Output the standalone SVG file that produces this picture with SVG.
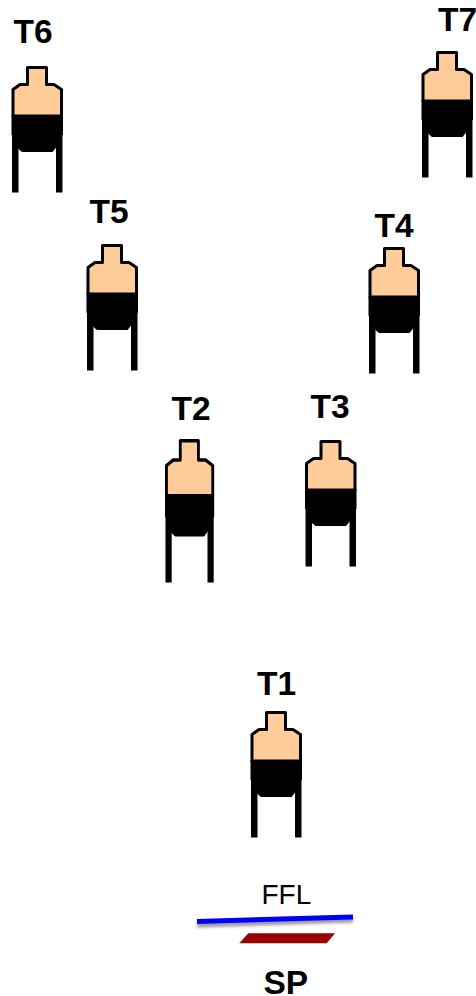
<svg xmlns="http://www.w3.org/2000/svg" width="476" height="996" viewBox="0 0 476 996">
<style>
.t{font-family:"Liberation Sans",Arial,sans-serif;font-weight:700;font-size:33.500px;fill:#000}
.f{font-family:"Liberation Sans",Arial,sans-serif;font-size:28px;fill:#000}
.b{fill:#ffcc99;stroke:#000;stroke-width:3;stroke-linejoin:round}
</style>
<defs>
<g id="tank">
<path class="b" d="M16 1.500H35V18.500H42.500L50 23.500V50H1.500V23.500L8.500 18.500H16Z"/>
<path fill="#000" d="M0 49H51.500V69H50.800L45 81L41 86H10.500L7 83L1 69H0Z"/>
<path fill="#000" d="M0.500 66H7V126.500H0.500ZM44.500 66H51V126.500H44.500Z"/>
</g>
<filter id="sh" x="-10%" y="-300%" width="120%" height="700%"><feGaussianBlur stdDeviation="1.5"/></filter>
</defs>
<g id="T6"><use href="#tank" transform="translate(11.500 66)"/><text class="t" x="13.500" y="43">T6</text></g>
<g id="T7"><use href="#tank" transform="translate(421.500 51)"/><text class="t" x="438" y="31">T7</text></g>
<g id="T5"><use href="#tank" transform="translate(86.500 244)"/><text class="t" x="89.500" y="223">T5</text></g>
<g id="T4"><use href="#tank" transform="translate(368.500 247)"/><text class="t" x="374.500" y="237">T4</text></g>
<g id="T2"><use href="#tank" transform="translate(165 439) scale(0.955 1.135)"/><text class="t" x="171.500" y="420">T2</text></g>
<g id="T3"><use href="#tank" transform="translate(305 440)"/><text class="t" x="310.500" y="418">T3</text></g>
<g id="T1"><use href="#tank" transform="translate(250.500 711)"/><text class="t" x="257" y="695">T1</text></g>
<g id="FFL">
<path d="M197 925L353 920" stroke="#000" stroke-opacity=".4" stroke-width="5" fill="none" filter="url(#sh)"/>
<path d="M197 921.500L353 917" stroke="#0000ff" stroke-width="5" fill="none"/>
<text class="f" x="261.500" y="903.500">FFL</text>
</g>
<g id="SP">
<path d="M239.300 943.300L248.300 933.300H335L326.700 943.300Z" fill="#990000"/>
<text class="t" x="263.500" y="993.500">SP</text>
</g>
<g id="connectors"/>
</svg>
